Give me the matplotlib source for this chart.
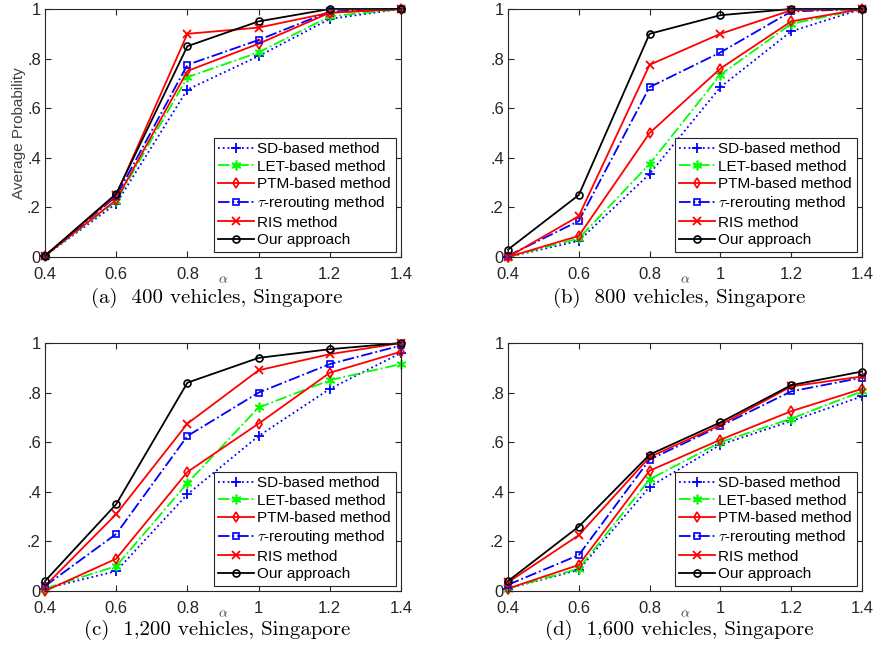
import matplotlib
matplotlib.use('Agg')
import matplotlib.pyplot as plt

plt.rcParams['mathtext.fontset'] = 'cm'
plt.rcParams['font.family'] = ['Liberation Sans', 'DejaVu Sans']

# ---------------- data ----------------
alpha_values = [0.4, 0.6, 0.8, 1.0, 1.2, 1.4]
x_tick_labels = ['0.4', '0.6', '0.8', '1', '1.2', '1.4']
y_ticks = [0, 0.2, 0.4, 0.6, 0.8, 1.0]
y_tick_labels = ['0', '.2', '.4', '.6', '.8', '1']

method_names = ['SD-based method', 'LET-based method', 'PTM-based method',
                r'$\tau$-rerouting method', 'RIS method', 'Our approach']

captions = ['(a)  400 vehicles, Singapore', '(b)  800 vehicles, Singapore',
            '(c)  1,200 vehicles, Singapore', '(d)  1,600 vehicles, Singapore']

# (a) 400 vehicles
sd_400 = [0.005, 0.215, 0.675, 0.81, 0.96, 1.0]
let_400 = [0.005, 0.225, 0.725, 0.825, 0.97, 1.0]
ptm_400 = [0.005, 0.23, 0.75, 0.86, 0.985, 1.0]
tau_400 = [0.005, 0.245, 0.775, 0.875, 0.99, 1.0]
ris_400 = [0.005, 0.25, 0.90, 0.925, 0.985, 1.0]
ours_400 = [0.005, 0.255, 0.85, 0.95, 1.0, 1.0]

# (b) 800 vehicles
sd_800 = [0.0, 0.065, 0.335, 0.685, 0.91, 1.0]
let_800 = [0.0, 0.075, 0.375, 0.735, 0.94, 1.0]
ptm_800 = [0.0, 0.085, 0.50, 0.76, 0.95, 1.0]
tau_800 = [0.005, 0.145, 0.685, 0.825, 0.99, 1.0]
ris_800 = [0.0, 0.165, 0.775, 0.90, 0.995, 1.0]
ours_800 = [0.03, 0.25, 0.90, 0.975, 1.0, 1.0]

# (c) 1,200 vehicles
sd_1200 = [0.01, 0.08, 0.39, 0.625, 0.815, 0.96]
let_1200 = [0.01, 0.10, 0.435, 0.74, 0.85, 0.915]
ptm_1200 = [0.0, 0.13, 0.48, 0.675, 0.88, 0.965]
tau_1200 = [0.02, 0.23, 0.625, 0.80, 0.915, 0.99]
ris_1200 = [0.02, 0.31, 0.675, 0.89, 0.955, 1.0]
ours_1200 = [0.04, 0.35, 0.84, 0.94, 0.975, 1.0]

# (d) 1,600 vehicles
sd_1600 = [0.01, 0.085, 0.42, 0.59, 0.685, 0.785]
let_1600 = [0.01, 0.09, 0.45, 0.60, 0.695, 0.805]
ptm_1600 = [0.01, 0.105, 0.485, 0.61, 0.725, 0.815]
tau_1600 = [0.025, 0.145, 0.53, 0.665, 0.805, 0.86]
ris_1600 = [0.035, 0.225, 0.54, 0.67, 0.825, 0.865]
ours_1600 = [0.04, 0.26, 0.55, 0.68, 0.83, 0.885]

panels = [
    [sd_400, let_400, ptm_400, tau_400, ris_400, ours_400],
    [sd_800, let_800, ptm_800, tau_800, ris_800, ours_800],
    [sd_1200, let_1200, ptm_1200, tau_1200, ris_1200, ours_1200],
    [sd_1600, let_1600, ptm_1600, tau_1600, ris_1600, ours_1600],
]

# ---------------- styles ----------------
styles = [
    dict(color='#0000ff', ls=':', marker='+', ms=7, mew=1.3),
    dict(color='#00ff00', ls='-.', marker=(6, 2, 0), ms=7, mew=1.2),
    dict(color='#ff0000', ls='-', marker='d', ms=5, mfc='none', mew=1.2),
    dict(color='#0000ff', ls='-.', marker='s', ms=4.5, mfc='none', mew=1.2),
    dict(color='#ff0000', ls='-', marker='x', ms=6, mew=1.3),
    dict(color='#000000', ls='-', marker='o', ms=5, mfc='none', mew=1.2),
]

W, H = 875, 648
fig = plt.figure(figsize=(W / 100, H / 100), dpi=100)

boxes = [(45, 9, 401, 257), (508, 9, 862, 257), (45, 343, 401, 591), (508, 343, 862, 591)]
cap_tops = [-0.125, -0.125, -0.115, -0.115]

for i, (l, t, r, b) in enumerate(boxes):
    ax = fig.add_axes([l / W, 1 - b / H, (r - l) / W, (b - t) / H])
    for series, name, st in zip(panels[i], method_names, styles):
        ax.plot(alpha_values, series, label=name, lw=1.3, clip_on=False, **st)
    ax.set_xlim(0.4, 1.4)
    ax.set_ylim(0, 1)
    ax.set_xticks(alpha_values)
    ax.set_xticklabels(x_tick_labels)
    ax.set_yticks(y_ticks)
    ax.set_yticklabels(y_tick_labels)
    ax.tick_params(direction='in', top=True, right=True, length=4, width=0.8,
                   labelsize=12, colors='#262626')
    ax.tick_params(axis='x', pad=7)
    ax.tick_params(axis='y', pad=3)
    for sp in ax.spines.values():
        sp.set_color('#262626')
        sp.set_linewidth(0.8)
    ax.set_xlabel(r'$\alpha$', fontsize=10, labelpad=-7, color='#404040')
    if i == 0:
        ax.set_ylabel('Average Probability', fontsize=11, labelpad=1, color='#404040')
    leg = ax.legend(loc='lower right', fontsize=11, fancybox=False, framealpha=1,
                    edgecolor='#262626', handlelength=2.3, handletextpad=0.25,
                    labelspacing=0.22, borderpad=0.3, borderaxespad=0.35)
    leg.get_frame().set_linewidth(0.8)
    ax.text(0.483, cap_tops[i], captions[i], transform=ax.transAxes,
            ha='center', va='top', fontsize=15, family='cmr10')

fig.savefig('out.png', dpi=100)
